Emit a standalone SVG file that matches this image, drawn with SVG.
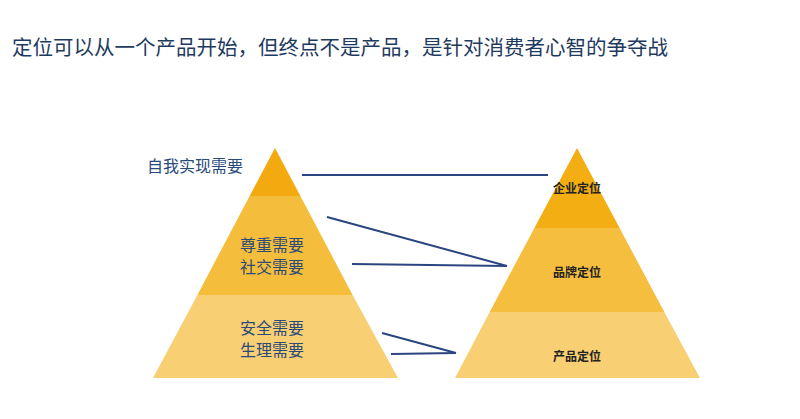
<svg xmlns="http://www.w3.org/2000/svg" width="800" height="419" viewBox="0 0 800 419">
<style>
.t{font-family:"Noto Sans CJK SC",sans-serif;fill:#2A4A7A;font-size:16px}
.r{font-family:"Noto Sans CJK SC",sans-serif;fill:#222;font-size:12px;font-weight:bold;text-anchor:middle}
.c{stroke:#2A4580;stroke-width:2;fill:none}
</style>
<rect width="800" height="419" fill="#fff"/>
<text x="12" y="55" font-family="Noto Sans CJK SC,sans-serif" font-size="20.5" fill="#1F3A5F">定位可以从一个产品开始，但终点不是产品，是针对消费者心智的争夺战</text>
<g id="left-pyramid">
<polygon points="275,148 300.4,196 249.6,196" fill="#F2AA10"/>
<polygon points="249.6,196 300.4,196 352.6,295 197.4,295" fill="#F5BD3C"/>
<polygon points="197.4,295 352.6,295 398,378 153,378" fill="#F8CF72"/>
<text class="t" x="147" y="172">自我实现需要</text>
<text class="t" x="240" y="251">尊重需要</text>
<text class="t" x="240" y="273">社交需要</text>
<text class="t" x="240" y="334">安全需要</text>
<text class="t" x="240" y="356">生理需要</text>
</g>
<g id="right-pyramid">
<polygon points="577,148 619.6,228 534.4,228" fill="#F3AE14"/>
<polygon points="534.4,228 619.6,228 664.3,312 489.7,312" fill="#F5BE3E"/>
<polygon points="489.7,312 664.3,312 700,378 455,378" fill="#F8CF72"/>
<text class="r" x="577" y="193">企业定位</text>
<text class="r" x="577" y="277">品牌定位</text>
<text class="r" x="577" y="361">产品定位</text>
</g>
<g id="connectors">
<line class="c" x1="302" y1="175" x2="548" y2="175"/>
<line class="c" x1="327" y1="217" x2="507" y2="266"/>
<line class="c" x1="352" y1="264" x2="507" y2="266"/>
<line class="c" x1="382" y1="333" x2="456" y2="353"/>
<line class="c" x1="391" y1="354" x2="456" y2="353"/>
</g>
</svg>
